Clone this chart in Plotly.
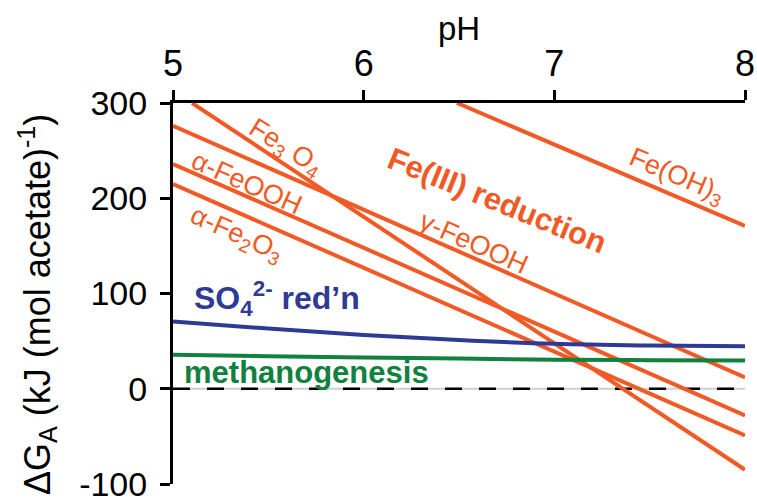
import plotly.graph_objects as go

# ---- data ----
ph_curve = [5.0, 5.5, 6.0, 6.5, 7.0, 7.5, 8.0]
so4_dg = [70.5, 63.2, 56.5, 51.2, 47.2, 45.4, 44.5]
methane_dg = [35.7, 34.2, 32.9, 31.7, 30.5, 30.0, 29.7]

feoh3_ph = [6.49, 8.0]
feoh3_dg = [300, 171]
fe3o4_ph = [5.10, 8.0]
fe3o4_dg = [300, -85]
gfeooh_ph = [5.0, 8.0]
gfeooh_dg = [276, 12]
afeooh_ph = [5.0, 8.0]
afeooh_dg = [236, -28]
afe2o3_ph = [5.0, 8.0]
afe2o3_dg = [215, -49]

x_ticks = [5, 6, 7, 8]
y_ticks = [-100, 0, 100, 200, 300]
y_tick_text = ["-100", "0", "100", "200", "300"]

ORANGE = "#F15A24"
BLUE = "#2E3A94"
GREEN = "#12803F"
FONT = "Liberation Sans, Arial, sans-serif"

fig = go.Figure()

# zero reference line
fig.add_shape(type="line", xref="x", yref="y", x0=5, x1=8, y0=0, y1=0,
              line=dict(color="#cfcfcf", width=2), layer="below")
fig.add_shape(type="line", xref="x", yref="y", x0=5, x1=8, y0=0, y1=0,
              line=dict(color="black", width=2.5, dash="17px,17px"), layer="below")

for xs, ys in [(feoh3_ph, feoh3_dg), (fe3o4_ph, fe3o4_dg), (gfeooh_ph, gfeooh_dg),
               (afeooh_ph, afeooh_dg), (afe2o3_ph, afe2o3_dg)]:
    fig.add_trace(go.Scatter(x=xs, y=ys, mode="lines",
                             line=dict(color=ORANGE, width=4), showlegend=False,
                             hoverinfo="skip"))

fig.add_trace(go.Scatter(x=ph_curve, y=so4_dg, mode="lines",
                         line=dict(color=BLUE, width=4, shape="spline"),
                         showlegend=False, hoverinfo="skip"))
fig.add_trace(go.Scatter(x=ph_curve, y=methane_dg, mode="lines",
                         line=dict(color=GREEN, width=4, shape="spline"),
                         showlegend=False, hoverinfo="skip"))

def lab(x, y, text, angle, size=26, color=ORANGE, xanchor="center"):
    fig.add_annotation(x=x, y=y, xref="x", yref="y", text=text, showarrow=False,
                       textangle=angle, xanchor=xanchor, yanchor="middle",
                       font=dict(family=FONT, size=size, color=color))

lab(5.59, 253, "Fe<sub>3</sub> O<sub>4</sub>", 32, size=27)
lab(5.39, 216, "α-FeOOH", 24, size=27)
lab(5.33, 161, "α-Fe<sub>2</sub>O<sub>3</sub>", 24, size=27)
lab(6.58, 153, "γ-FeOOH", 24, size=27)
lab(7.64, 222, "Fe(OH)<sub>3</sub>", 23, size=27)
lab(6.70, 198, "<b>Fe(III) reduction</b>", 22, size=31)
lab(5.10, 95, "<b>SO<sub>4</sub><sup>2-</sup> red’n</b>", 0, size=32, color=BLUE, xanchor="left")
lab(5.047, 17, "<b>methanogenesis</b>", 0, size=31, color=GREEN, xanchor="left")

# axis titles
fig.add_annotation(x=0.5, y=1.196, xref="paper", yref="paper", text="pH",
                   showarrow=False, xanchor="center", yanchor="middle",
                   font=dict(family=FONT, size=33, color="black"))
fig.add_annotation(x=-0.238, y=0.472, xref="paper", yref="paper",
                   text="ΔG<sub>A</sub> (kJ (mol acetate)<sup>-1</sup>)",
                   showarrow=False, textangle=-90, xanchor="center", yanchor="middle",
                   font=dict(family=FONT, size=36, color="black"))

fig.update_layout(
    width=757, height=500,
    margin=dict(l=173, r=12, t=103, b=16, autoexpand=False),
    paper_bgcolor="white", plot_bgcolor="white",
    font=dict(family=FONT, color="black"),
    xaxis=dict(range=[5, 8], side="top", tickvals=x_ticks, ticks="outside",
               ticklen=10, tickwidth=3, tickcolor="black", showline=True,
               linecolor="black", linewidth=3, showgrid=False, zeroline=False,
               automargin=False, ticklabeloverflow="allow",
               tickfont=dict(size=36)),
    yaxis=dict(range=[-100, 300], tickvals=y_ticks, ticktext=y_tick_text, ticks="outside",
               ticklen=10, tickwidth=3, tickcolor="black", showline=True,
               linecolor="black", linewidth=3, showgrid=False, zeroline=False,
               automargin=False, ticklabeloverflow="allow", ticklabelstandoff=6,
               tickfont=dict(size=34)),
)

fig.write_html("out.html")
